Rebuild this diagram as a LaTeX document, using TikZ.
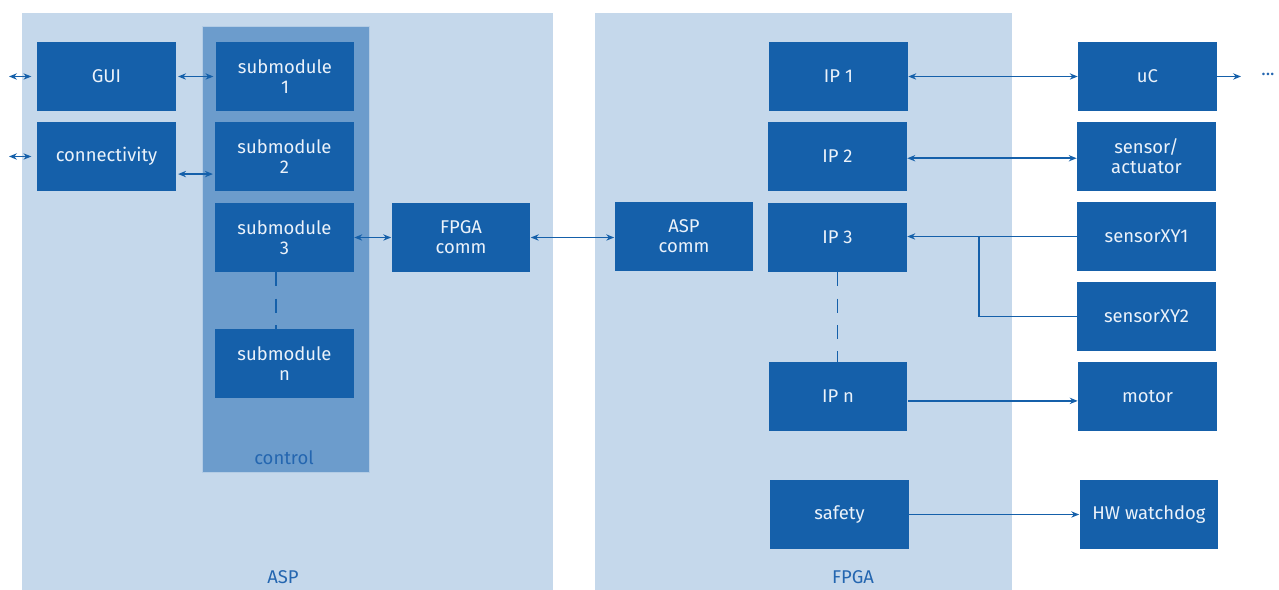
\documentclass[tikz,border=0pt]{standalone}
\usepackage{fontspec}
\setmainfont{Fira Sans}
\usetikzlibrary{arrows.meta}
\definecolor{panelblue}{RGB}{197,216,235}
\definecolor{ctrlblue}{RGB}{108,156,204}
\definecolor{boxblue}{RGB}{21,96,170}
\definecolor{labelblue}{RGB}{36,102,176}
\definecolor{boxtext}{RGB}{235,242,250}
\tikzset{
  panel/.style={fill=panelblue, draw=none},
  panel-ctrl/.style={fill=ctrlblue, draw=panelblue!80!ctrlblue, line width=0.4pt},
  box/.style={rectangle, fill=boxblue, draw=none, text=boxtext,
    minimum width=2.78cm, minimum height=1.38cm, align=center,
    inner sep=0pt, font=\fontsize{10.5}{11.5}\selectfont},
  panel-label/.style={text=labelblue, font=\fontsize{10.5}{12}\selectfont},
  link/.style={draw=boxblue, line width=1.1pt},
  link-both/.style={link, {Stealth[length=4.5pt,width=3.6pt]}-{Stealth[length=4.5pt,width=3.6pt]}},
  link-to/.style={link, -{Stealth[length=4.5pt,width=3.6pt]}},
  link-dash/.style={link, dash pattern=on 8pt off 7pt}
}

\begin{document}
\begin{tikzpicture}[x=0.02cm, y=-0.02cm]
  \useasboundingbox (0,0) rectangle (1279,590);

  % panels
  \path[panel] (22,13) rectangle (553,590);
  \path[panel] (595,13) rectangle (1012,590);
  \path[panel-ctrl] (202,26) rectangle (369,472);
  \node[panel-label] (lblctrl) at (284,458) {control};
  \node[panel-label] (lblasp) at (283,577) {ASP};
  \node[panel-label] (lblfpga) at (853,577) {FPGA};

  % ASP side
  \node[box] (gui) at (106.5,76.5) {GUI};
  \node[box] (conn) at (106.5,156.5) {connectivity};
  \node[box] (sub1) at (285,76.5) {submodule\\1};
  \node[box] (sub2) at (284.5,156.5) {submodule\\2};
  \node[box] (sub3) at (284.5,237.5) {submodule\\3};
  \node[box] (subn) at (284.5,363.5) {submodule\\n};
  \node[box] (fcomm) at (461,237.5) {FPGA\\comm};

  % FPGA side
  \node[box] (acomm) at (684,236.5) {ASP\\comm};
  \node[box] (ip1) at (838.5,76.5) {IP 1};
  \node[box] (ip2) at (837.5,156.5) {IP 2};
  \node[box] (ip3) at (837.5,237.5) {IP 3};
  \node[box] (ipn) at (838,396.5) {IP n};
  \node[box] (safety) at (839.5,514.5) {safety};

  % peripherals
  \node[box] (uc) at (1147.5,76.5) {uC};
  \node[box] (sensact) at (1146.5,156.5) {sensor/\\actuator};
  \node[box] (sxy1) at (1146.5,236.5) {sensorXY1};
  \node[box] (sxy2) at (1146.5,316.5) {sensorXY2};
  \node[box] (motor) at (1147.5,396.5) {motor};
  \node[box] (hwwd) at (1149,514.5) {HW watchdog};
  \node[text=labelblue, font=\fontsize{10.5}{12}\selectfont] (more) at (1268,74) {...};

  % free ends
  \coordinate (guiout) at (9,76.5);
  \coordinate (connout) at (9,156.5);
  \coordinate (ucout) at (1241,76.5);
  \coordinate (branch) at (979,236.5);

  % connectors
  \draw[link-both] (guiout) -- ([xshift=-3pt]gui.west);
  \draw[link-both] (connout) -- ([xshift=-3pt]conn.west);
  \draw[link-both] ([xshift=1pt]gui.east) -- ([xshift=-1pt]gui.east -| sub1.west);
  \draw[link-both] ([xshift=1pt,yshift=-10pt]conn.east) -- ([xshift=-1pt,yshift=-10pt]conn.east -| sub2.west);
  \draw[link-both] (sub3.east) -- (fcomm.west);
  \draw[link-both] (fcomm.east) -- (fcomm.east -| acomm.west);
  \draw[link-both] (ip1.east) -- (uc.west);
  \draw[link-both] ([yshift=-1pt]ip2.east) -- ([yshift=-1pt]ip2.east -| sensact.west);
  \draw[link-to] (uc.east) -- (ucout);
  \draw[link-to] (sxy1.west) -- (sxy1.west -| ip3.east);
  \draw[link] (sxy2.west) -| (branch);
  \draw[link-to] ([yshift=-2.5pt]ipn.east) -- ([yshift=-2.5pt]ipn.east -| motor.west);
  \draw[link-to] (safety.east) -- (safety.east -| hwwd.west);
  \draw[link-dash] ([xshift=-5pt]sub3.south) -- ([xshift=-5pt]subn.north);
  \draw[link-dash] (ip3.south) -- (ip3.south |- ipn.north);
\end{tikzpicture}
\end{document}
